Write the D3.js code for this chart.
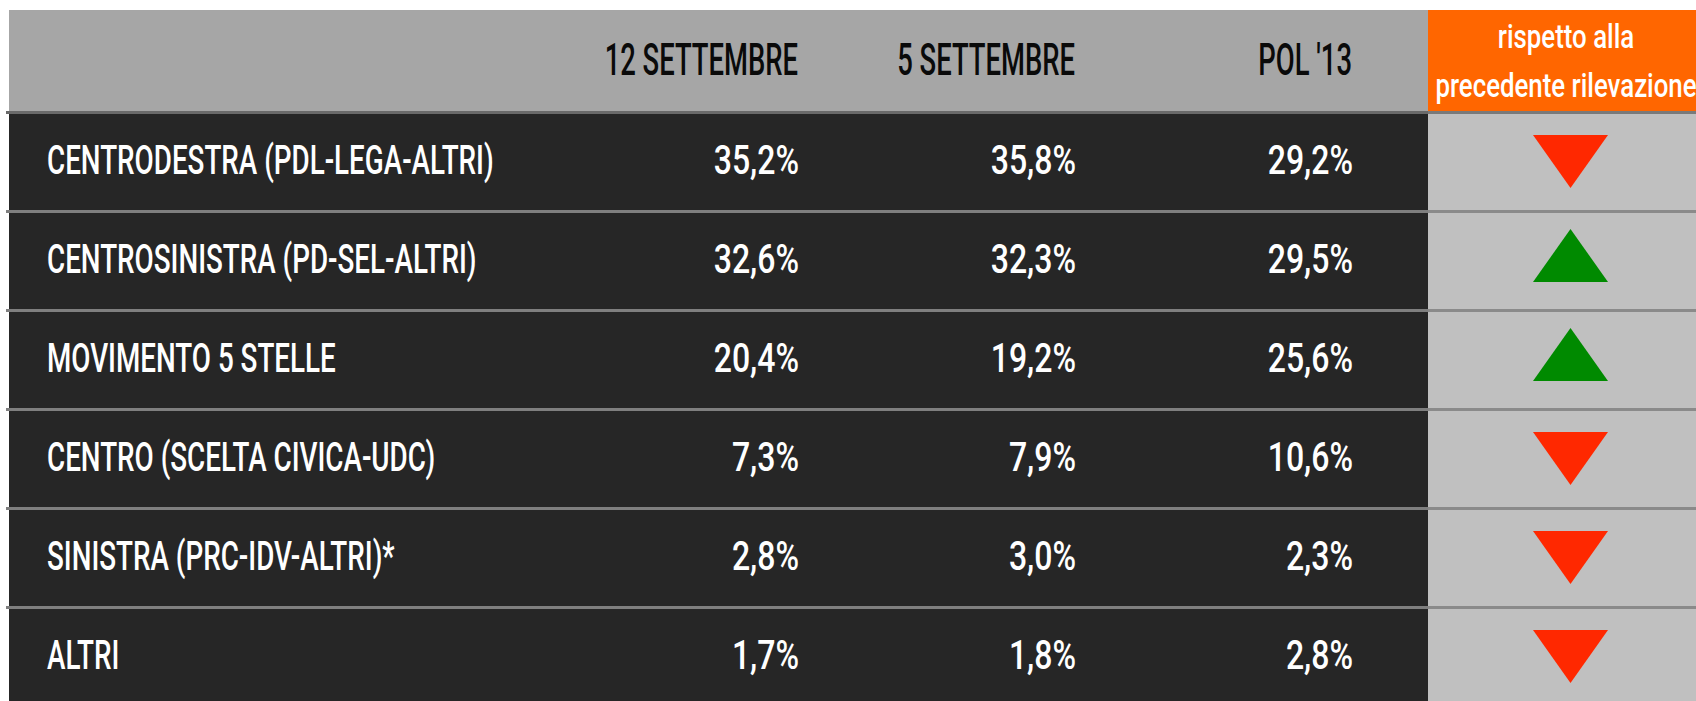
<!DOCTYPE html>
<html>
<head>
<meta charset="utf-8">
<script src="https://cdn.jsdelivr.net/npm/d3@7"></script>
<style>
  html, body { margin: 0; padding: 0; background: #ffffff; overflow: hidden; }
  svg { display: block; }
  text { font-family: Roboto, "Liberation Sans", sans-serif; }
</style>
</head>
<body>
<svg id="chart" width="1696" height="701"></svg>
<script>
// ---- data ----
const parties = [
  "CENTRODESTRA (PDL-LEGA-ALTRI)",
  "CENTROSINISTRA (PD-SEL-ALTRI)",
  "MOVIMENTO 5 STELLE",
  "CENTRO (SCELTA CIVICA-UDC)",
  "SINISTRA (PRC-IDV-ALTRI)*",
  "ALTRI"
];
const columns = ["12 SETTEMBRE", "5 SETTEMBRE", "POL '13"];
const sett12 = [35.2, 32.6, 20.4, 7.3, 2.8, 1.7];
const sett5  = [35.8, 32.3, 19.2, 7.9, 3.0, 1.8];
const pol13  = [29.2, 29.5, 25.6, 10.6, 2.3, 2.8];
const trendHeader = ["rispetto alla", "precedente rilevazione"];

const series = [sett12, sett5, pol13];
const trend = sett12.map((v, i) => v > sett5[i] ? "up" : "down");

// ---- layout ----
const W = 1696, H = 701;
const boxLeft = 9, boxTop = 10, headerBottom = 111, rowH = 99;
const trendX0 = 1428, trendCenter = 1568;

const svg = d3.select("#chart");

const y = d3.scaleBand()
  .domain(parties)
  .range([headerBottom, headerBottom + rowH * parties.length])
  .paddingInner(0).paddingOuter(0);

const x = d3.scalePoint()
  .domain(columns)
  .range([798, 1352]);

const it = d3.formatLocale({ decimal: ",", thousands: ".", grouping: [3], currency: ["", "€"] });
const fmt = v => it.format(".1f")(v) + "%";

// backgrounds
svg.append("rect").attr("x", boxLeft).attr("y", boxTop)
  .attr("width", trendX0 - boxLeft).attr("height", headerBottom - boxTop)
  .attr("fill", "#a6a6a6");
svg.append("rect").attr("x", trendX0).attr("y", boxTop)
  .attr("width", W - trendX0 + 20).attr("height", headerBottom - boxTop)
  .attr("fill", "#ff6600");
svg.append("rect").attr("x", boxLeft).attr("y", headerBottom)
  .attr("width", trendX0 - boxLeft).attr("height", H - headerBottom)
  .attr("fill", "#262626");
svg.append("rect").attr("x", trendX0).attr("y", headerBottom)
  .attr("width", W - trendX0 + 20).attr("height", H - headerBottom)
  .attr("fill", "#c0c0c0");

// separator lines
const lineYs = parties.map(p => y(p));
svg.selectAll("line.sepDark").data(lineYs).enter().append("line")
  .attr("class", "sepDark")
  .attr("x1", 6).attr("x2", trendX0)
  .attr("y1", d => d + 1.5).attr("y2", d => d + 1.5)
  .attr("stroke", (d, i) => i === 0 ? "#6a6a6a" : "#7f7f7f")
  .attr("stroke-width", 3);
svg.selectAll("line.sepLight").data(lineYs).enter().append("line")
  .attr("class", "sepLight")
  .attr("x1", trendX0).attr("x2", W)
  .attr("y1", d => d + 1.5).attr("y2", d => d + 1.5)
  .attr("stroke", (d, i) => i === 0 ? "#7a7a7a" : "#8a8a8a")
  .attr("stroke-width", 3);

// header text
const headerBase = 75;
svg.selectAll("text.colHead").data(columns).enter().append("text")
  .attr("class", "colHead")
  .attr("transform", d => `translate(${x(d)},${headerBase}) scale(0.63,1)`)
  .attr("text-anchor", "end")
  .attr("font-size", 43.5)
  .attr("font-weight", 500)
  .attr("fill", "#0a0a0a")
  .text(d => d);

svg.selectAll("text.trendHead").data(trendHeader).enter().append("text")
  .attr("class", "trendHead")
  .attr("transform", (d, i) => `translate(${trendCenter - 2},${48 + i * 49}) scale(0.76,1)`)
  .attr("text-anchor", "middle")
  .attr("font-size", 34)
  .attr("font-weight", 500)
  .attr("fill", "#ffffff")
  .text(d => d);

// row labels
const baseOff = 13.5;
svg.selectAll("text.label").data(parties).enter().append("text")
  .attr("class", "label")
  .attr("transform", d => `translate(47,${y(d) + y.bandwidth() / 2 + baseOff}) scale(0.678,1)`)
  .attr("text-anchor", "start")
  .attr("font-size", 41)
  .attr("font-weight", 500)
  .attr("fill", "#ffffff")
  .text(d => d);

// values
columns.forEach((c, ci) => {
  svg.selectAll(null).data(series[ci]).enter().append("text")
    .attr("transform", (d, i) => `translate(${x(c) + 1},${y(parties[i]) + y.bandwidth() / 2 + baseOff}) scale(0.8,1)`)
    .attr("text-anchor", "end")
    .attr("font-size", 40)
    .attr("font-weight", 500)
    .attr("fill", "#ffffff")
    .text(d => fmt(d));
});

// trend triangles
const triW = 75, triH = 53;
svg.selectAll("path.tri").data(trend).enter().append("path")
  .attr("class", "tri")
  .attr("d", (d, i) => {
    const cy = y(parties[i]) + y.bandwidth() / 2;
    const cx = trendCenter + 2.5;
    if (d === "up") {
      const t = cy - 30.5, b = t + triH;
      return `M${cx - triW / 2},${b}L${cx + triW / 2},${b}L${cx},${t}Z`;
    } else {
      const t = cy - 25.5, b = t + triH;
      return `M${cx - triW / 2},${t}L${cx + triW / 2},${t}L${cx},${b}Z`;
    }
  })
  .attr("fill", d => d === "up" ? "#008a00" : "#ff2800");
</script>
</body>
</html>
